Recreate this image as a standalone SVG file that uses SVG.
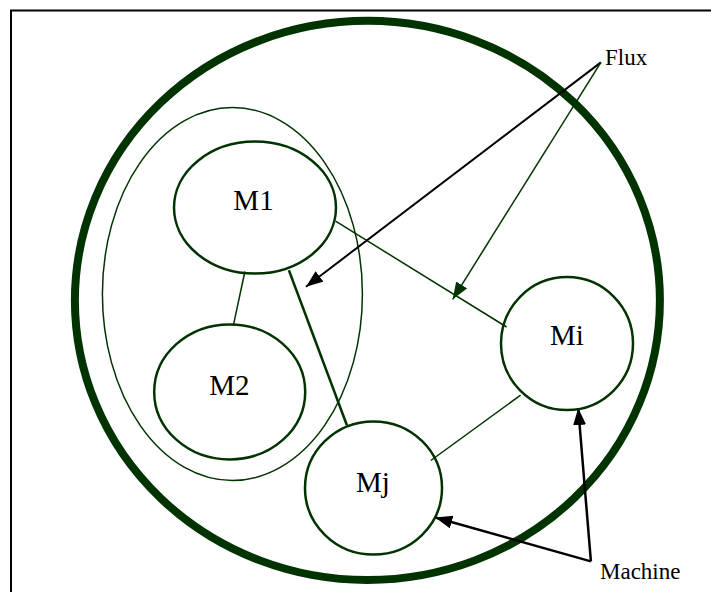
<svg xmlns="http://www.w3.org/2000/svg" width="711" height="592" viewBox="0 0 711 592">
<style>
.node{fill:none;stroke:#003300;stroke-width:2.5}
.lbl{font-family:"Liberation Serif","Times New Roman",serif;font-size:29px;fill:#000;text-anchor:middle}
.note{font-family:"Liberation Serif","Times New Roman",serif;font-size:23px;fill:#000}
.link{stroke:#003300;fill:none}
</style>
<defs>
<marker id="ab" markerUnits="userSpaceOnUse" markerWidth="18" markerHeight="14" refX="17" refY="6.5" orient="auto">
<path d="M0,0 L17,6.5 L0,13 z" fill="#000"/>
</marker>
<marker id="ag" markerUnits="userSpaceOnUse" markerWidth="18" markerHeight="14" refX="17" refY="6.5" orient="auto">
<path d="M0,0 L17,6.5 L0,13 z" fill="#003300"/>
</marker>
</defs>
<rect x="0" y="0" width="711" height="592" fill="#fff"/>
<rect x="11" y="10.5" width="720" height="600" fill="none" stroke="#000" stroke-width="2"/>
<g id="system">
<ellipse cx="367.4" cy="300.4" rx="292.5" ry="279.6" fill="none" stroke="#003300" stroke-width="8"/>
</g>
<g id="group">
<ellipse cx="232.4" cy="294" rx="130" ry="186.5" fill="none" stroke="#003300" stroke-width="1.5"/>
</g>
<g id="connectors">
<line class="link" x1="244.9" y1="271.5" x2="233.6" y2="324.4" stroke-width="1.5"/>
<line class="link" x1="288.9" y1="270.3" x2="346.9" y2="425.3" stroke-width="2.5"/>
<line class="link" x1="335.6" y1="221.2" x2="506.6" y2="327" stroke-width="1.5"/>
<line class="link" x1="520.6" y1="395.1" x2="430.8" y2="460.5" stroke-width="1.5"/>
<line x1="600.9" y1="62.4" x2="306" y2="286.7" stroke="#000" stroke-width="2" marker-end="url(#ab)"/>
<line x1="600.9" y1="62.4" x2="452.7" y2="299.3" stroke="#003300" stroke-width="1.5" marker-end="url(#ag)"/>
<line x1="590.9" y1="561.4" x2="578.2" y2="408" stroke="#000" stroke-width="2.5" marker-end="url(#ab)"/>
<line x1="590.9" y1="561.4" x2="435.3" y2="517.5" stroke="#000" stroke-width="2.5" marker-end="url(#ab)"/>
</g>
<g id="M1">
<ellipse class="node" cx="255" cy="207.6" rx="81" ry="66"/>
<text class="lbl" x="253.5" y="210">M1</text>
</g>
<g id="M2">
<ellipse class="node" cx="229.7" cy="391.9" rx="75.5" ry="67.5"/>
<text class="lbl" x="229.3" y="395">M2</text>
</g>
<g id="Mi">
<ellipse class="node" cx="567" cy="343.6" rx="66" ry="66.5"/>
<text class="lbl" x="567" y="345">Mi</text>
</g>
<g id="Mj">
<ellipse class="node" cx="373.5" cy="488" rx="68.5" ry="66.5"/>
<text class="lbl" x="373" y="491.5">Mj</text>
</g>
<g id="labels">
<text class="note" x="605" y="65">Flux</text>
<text class="note" x="600" y="579">Machine</text>
</g>
</svg>
